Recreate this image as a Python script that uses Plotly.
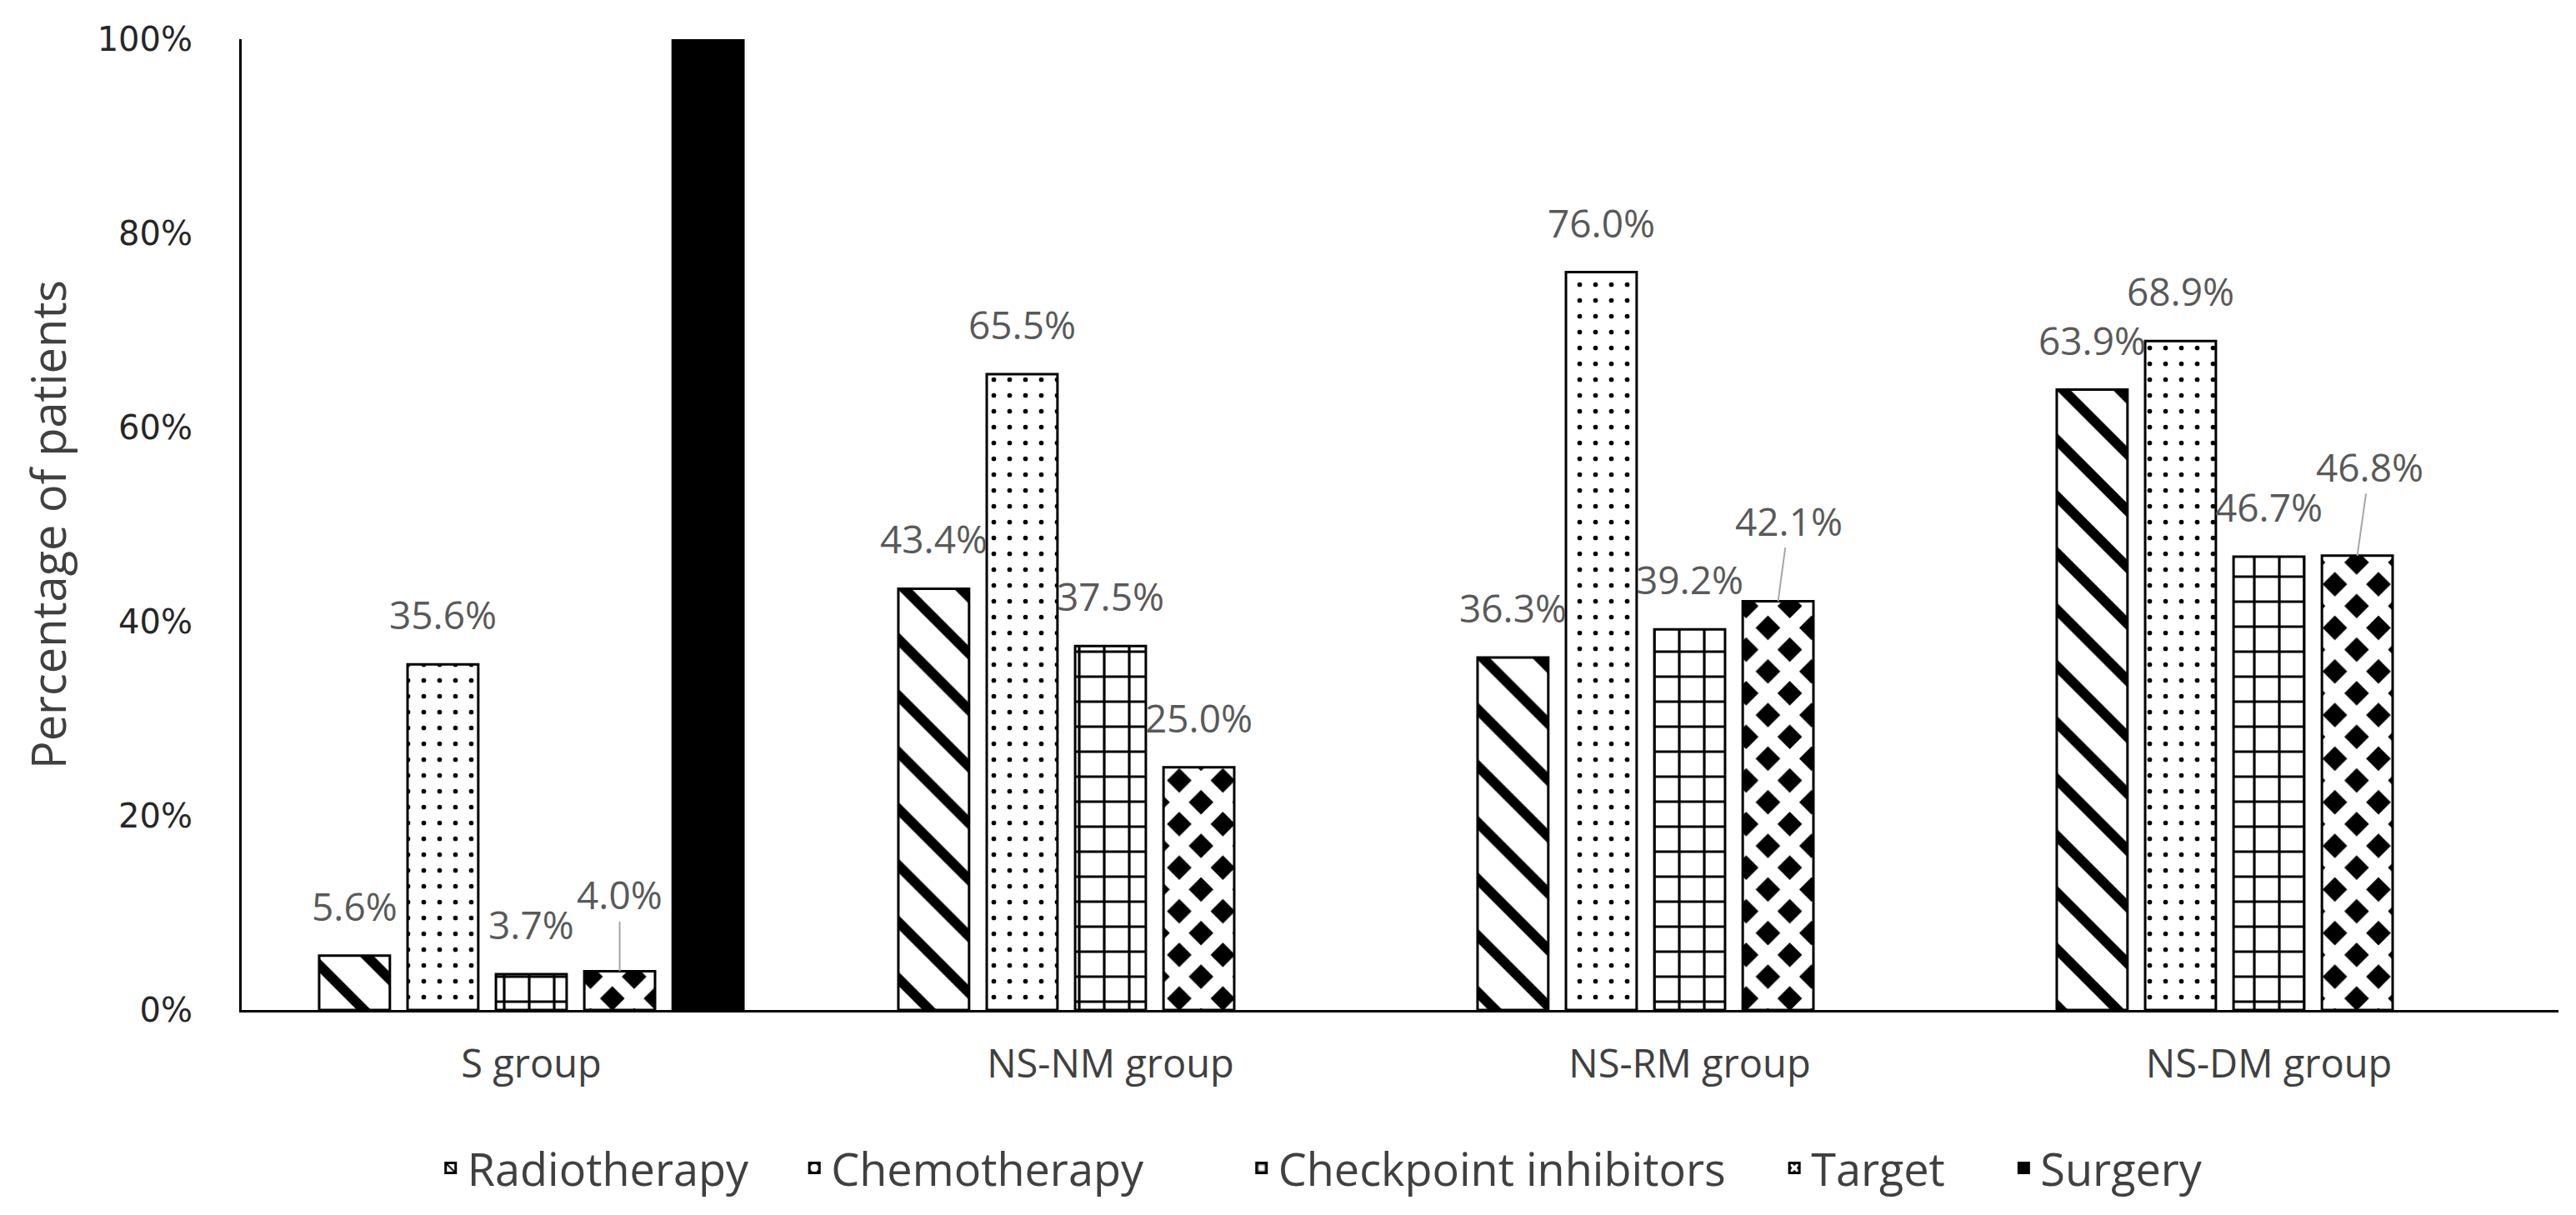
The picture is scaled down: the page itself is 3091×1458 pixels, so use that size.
import plotly.graph_objects as go

# ---- data ----
categories = ["S group", "NS-NM group", "NS-RM group", "NS-DM group"]
series_names = ["Radiotherapy", "Chemotherapy", "Checkpoint inhibitors", "Target", "Surgery"]
radiotherapy = [5.6, 43.4, 36.3, 63.9]
chemotherapy = [35.6, 65.5, 76.0, 68.9]
checkpoint_inhibitors = [3.7, 37.5, 39.2, 46.7]
target = [4.0, 25.0, 42.1, 46.8]
surgery = [100.0, None, None, None]
y_tick_values = [0, 20, 40, 60, 80, 100]
y_tick_labels = ["0%", "20%", "40%", "60%", "80%", "100%"]

series_values = [radiotherapy, chemotherapy, checkpoint_inhibitors, target, surgery]
labelled_series = [True, True, True, True, False]

# ---- styles ----
patterns = [
    dict(shape="\\", fgcolor="black", bgcolor="white", fgopacity=1, size=48, solidity=0.25),
    dict(shape=".", fgcolor="black", bgcolor="white", fgopacity=1, size=19, solidity=0.07),
    dict(shape="+", fgcolor="black", bgcolor="white", fgopacity=1, size=30, solidity=0.2),
    dict(shape="x", fgcolor="white", bgcolor="black", fgopacity=1, size=37, solidity=0.68),
    None,
]
BARGAP = 0.237
BARGROUPGAP = 0.2
LABEL_COLOR = "#595959"
TEXT_COLOR = "#404040"
# labels that Excel moved and connected with a leader line: (series, category) -> (dx, dy) px
leader_offsets = {(3, 0): (0, 92), (3, 2): (13, 97), (3, 3): (15, 107)}
# legend entry x positions (paper fraction) -- Excel spaced entries unevenly
legend_x = [0.083, 0.24, 0.433, 0.663, 0.762]

MARGIN_L, MARGIN_R, MARGIN_T, MARGIN_B = 282, 29, 39, 254

x_idx = list(range(len(categories)))
fig = go.Figure()
legend_layouts = {}
for k, (name, vals) in enumerate(zip(series_names, series_values)):
    marker = dict(color="black" if patterns[k] is None else "white",
                  line=dict(color="black", width=3))
    if patterns[k] is not None:
        marker["pattern"] = patterns[k]
    lg = "legend" if k == 0 else f"legend{k + 1}"
    fig.add_trace(go.Bar(name=name, x=x_idx, y=vals, marker=marker, legend=lg))
    legend_layouts[lg] = dict(orientation="h", x=legend_x[k], xanchor="left",
                              y=-0.163, yanchor="middle",
                              font=dict(family="Open Sans", size=54, color=TEXT_COLOR),
                              bgcolor="rgba(0,0,0,0)",
                              itemclick=False, itemdoubleclick=False)

# data labels positioned from the bar layout (group slot centres)
n_series = len(series_names)
slot = (1 - BARGAP) / n_series
annotations = []
for k, vals in enumerate(series_values):
    if not labelled_series[k]:
        continue
    for i, v in enumerate(vals):
        if v is None:
            continue
        xc = i + (k - (n_series - 1) / 2) * slot
        txt = f"{v:.1f}%"
        font = dict(family="Open Sans", size=46, color=LABEL_COLOR)
        if (k, i) in leader_offsets:
            dx, dy = leader_offsets[(k, i)]
            annotations.append(dict(x=xc, y=v, xref="x", yref="y", text=txt, font=font,
                                    showarrow=True, arrowhead=0, arrowwidth=2,
                                    arrowcolor="#A6A6A6", ax=dx, ay=-dy, standoff=0))
        else:
            annotations.append(dict(x=xc, y=v, xref="x", yref="y", text=txt, font=font,
                                    showarrow=False, yshift=60))

fig.update_layout(
    width=3091, height=1458,
    paper_bgcolor="white", plot_bgcolor="white",
    barmode="group", bargap=BARGAP, bargroupgap=BARGROUPGAP,
    margin=dict(l=MARGIN_L, r=MARGIN_R, t=MARGIN_T, b=MARGIN_B, autoexpand=False),
    annotations=annotations,
    showlegend=True,
    **legend_layouts,
)
fig.update_xaxes(range=[-0.5, len(categories) - 0.5], tickvals=x_idx, ticktext=categories,
                 showline=True, linecolor="black", linewidth=3, ticks="",
                 showgrid=False, zeroline=False, ticklabelstandoff=22,
                 tickfont=dict(family="Open Sans", size=47, color=TEXT_COLOR))
fig.update_yaxes(range=[0, 100], tickvals=y_tick_values, ticktext=y_tick_labels,
                 showline=True, linecolor="black", linewidth=3, ticks="",
                 showgrid=False, zeroline=False, ticklabelstandoff=48,
                 tickfont=dict(family="DejaVu Sans", size=40, color="#262626"),
                 title=dict(text="Percentage of patients", standoff=20,
                            font=dict(family="Open Sans", size=56, color=TEXT_COLOR)))

fig.write_html("out.html")
